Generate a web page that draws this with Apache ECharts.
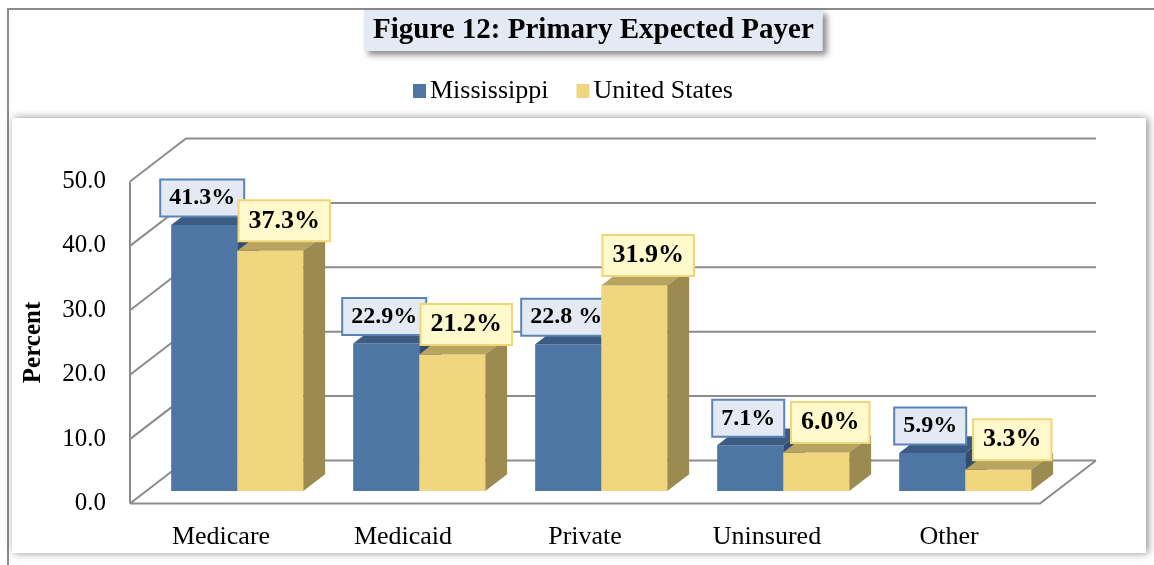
<!DOCTYPE html>
<html>
<head>
<meta charset="utf-8">
<script src="https://cdn.jsdelivr.net/npm/echarts@6/dist/echarts.min.js"></script>
<style>html,body{margin:0;padding:0;background:#fff}#c{width:1154px;height:565px}</style>
</head>
<body>
<div id="c"></div>
<script>
const categories = ['Medicare', 'Medicaid', 'Private', 'Uninsured', 'Other'];
const mississippi = [41.3, 22.9, 22.8, 7.1, 5.9];
const unitedStates = [37.3, 21.2, 31.9, 6.0, 3.3];
const msLabels = ['41.3%', '22.9%', '22.8 %', '7.1%', '5.9%'];
const usLabels = ['37.3%', '21.2%', '31.9%', '6.0%', '3.3%'];
const yTicks = [0, 10, 20, 30, 40, 50];

const FONT = '"Liberation Serif", "Times New Roman", serif';
const DX = 56, DY = -43;          // depth projection of the box
const FRONT = 0.29, DEPTH = 0.39; // bar position within depth
const GRID_COLOR = '#8c8c8c';

const styles = [
  { front: '#4E76A4', top: '#3C5B83', side: '#334D72', lblBg: '#E3EAF4', lblBorder: '#5B84B6',
    font: 'bold 24px ' + FONT, pad: [6, 8, 5, 8], off: [-2, -27], labels: msLabels },
  { front: '#F0D67E', top: '#B9A45F', side: '#9C8B50', lblBg: '#FFF9CC', lblBorder: '#F0D67A',
    font: 'bold 26px ' + FONT, pad: [7, 9, 6, 9], off: [14, -30], labels: usLabels }
];

function barRender(s) {
  return function (params, api) {
    const i = api.value(0), v = api.value(1);
    const top = api.coord([i, v]);
    const base = api.coord([i, 0]);
    const catW = api.size([1, 0])[0];
    const bw = catW * 0.363;
    const x0 = (s === 0 ? top[0] - bw : top[0]) + DX * FRONT;
    const yT = top[1] + DY * FRONT, yB = base[1] + DY * FRONT;
    const dx = DX * DEPTH, dy = DY * DEPTH;
    const st = styles[s];
    return {
      type: 'group',
      children: [
        { type: 'rect', shape: { x: x0, y: yT, width: bw, height: yB - yT }, style: { fill: st.front } },
        { type: 'polygon', shape: { points: [[x0, yT], [x0 + dx, yT + dy], [x0 + bw + dx, yT + dy], [x0 + bw, yT]] }, style: { fill: st.top } },
        { type: 'polygon', shape: { points: [[x0 + bw, yT], [x0 + bw + dx, yT + dy], [x0 + bw + dx, yB + dy], [x0 + bw, yB]] }, style: { fill: st.side } },
        { type: 'text', z2: 100,
          style: { text: st.labels[params.dataIndex], x: x0 + bw / 2 + st.off[0], y: yT + st.off[1],
            align: 'center', verticalAlign: 'middle', font: st.font, fill: '#000',
            backgroundColor: st.lblBg, borderColor: st.lblBorder, borderWidth: 2, padding: st.pad } }
      ]
    };
  };
}

function frameRender(params, api) {
  const cs = params.coordSys;
  const v = api.value(1);
  const y = api.coord([0, v])[1];
  const ls = { stroke: GRID_COLOR, lineWidth: 2, fill: null };
  const children = [
    { type: 'polyline', shape: { points: [[cs.x, y], [cs.x + DX, y + DY], [cs.x + cs.width + DX, y + DY]] }, style: ls }
  ];
  if (v === yTicks[0]) {
    children.push({ type: 'polyline', shape: { points: [[cs.x, y], [cs.x + cs.width, y], [cs.x + cs.width + DX, y + DY]] }, style: ls });
  }
  if (v === yTicks[yTicks.length - 1]) {
    children.push({ type: 'line', shape: { x1: cs.x, y1: y, x2: cs.x, y2: cs.y + cs.height }, style: ls });
  }
  return { type: 'group', children };
}

const chart = echarts.init(document.getElementById('c'), null, { renderer: 'canvas' });
chart.setOption({
  animation: false,
  backgroundColor: '#fff',
  graphic: [
    { type: 'rect', z: -10, shape: { x: 8, y: 9, width: 1170, height: 600 }, style: { fill: '#fff', stroke: '#8a8a8a', lineWidth: 2 } },
    { type: 'rect', z: -9, shape: { x: 12, y: 118, width: 1134, height: 435 },
      style: { fill: '#fff', shadowBlur: 8, shadowColor: 'rgba(0,0,0,0.45)', shadowOffsetX: 2, shadowOffsetY: 0 } }
  ],
  title: {
    text: 'Figure 12: Primary Expected Payer',
    left: 364, top: 10,
    padding: [6, 9, 5, 9],
    backgroundColor: '#E4EAF3',
    shadowBlur: 6, shadowColor: 'rgba(0,0,0,0.45)', shadowOffsetX: 4, shadowOffsetY: 4,
    textStyle: { fontFamily: FONT, fontWeight: 'bold', fontSize: 29, color: '#000', lineHeight: 30 }
  },
  legend: {
    left: 408, top: 73,
    itemWidth: 13, itemHeight: 14, itemGap: 28,
    icon: 'rect',
    textStyle: { fontFamily: FONT, fontSize: 26, color: '#000', padding: [0, 0, 0, -1] },
    data: ['Mississippi', 'United States']
  },
  grid: { left: 130, right: 114, top: 181.5, bottom: 61.5, outerBoundsMode: 'none' },
  xAxis: {
    type: 'category', data: categories,
    axisLine: { show: false }, axisTick: { show: false }, splitLine: { show: false },
    axisLabel: { fontFamily: FONT, fontSize: 26, color: '#000', margin: 21 }
  },
  yAxis: {
    type: 'value', min: 0, max: 50, interval: 10,
    name: 'Percent', nameLocation: 'middle', nameRotate: 90, nameGap: 84,
    nameTextStyle: { fontFamily: FONT, fontWeight: 'bold', fontSize: 25, color: '#000' },
    axisLine: { show: false }, axisTick: { show: false }, splitLine: { show: false },
    axisLabel: { fontFamily: FONT, fontSize: 25, color: '#000', margin: 24, formatter: v => v.toFixed(1) }
  },
  series: [
    { type: 'custom', name: 'frame', z: 1, silent: true, renderItem: frameRender,
      data: yTicks.map(v => [0, v]), encode: { x: 0, y: 1 } },
    { type: 'custom', name: 'Mississippi', z: 2, renderItem: barRender(0),
      itemStyle: { color: styles[0].front },
      data: mississippi.map((v, i) => [i, v]), encode: { x: 0, y: 1 } },
    { type: 'custom', name: 'United States', z: 3, renderItem: barRender(1),
      itemStyle: { color: styles[1].front },
      data: unitedStates.map((v, i) => [i, v]), encode: { x: 0, y: 1 } }
  ]
});
</script>
</body>
</html>
